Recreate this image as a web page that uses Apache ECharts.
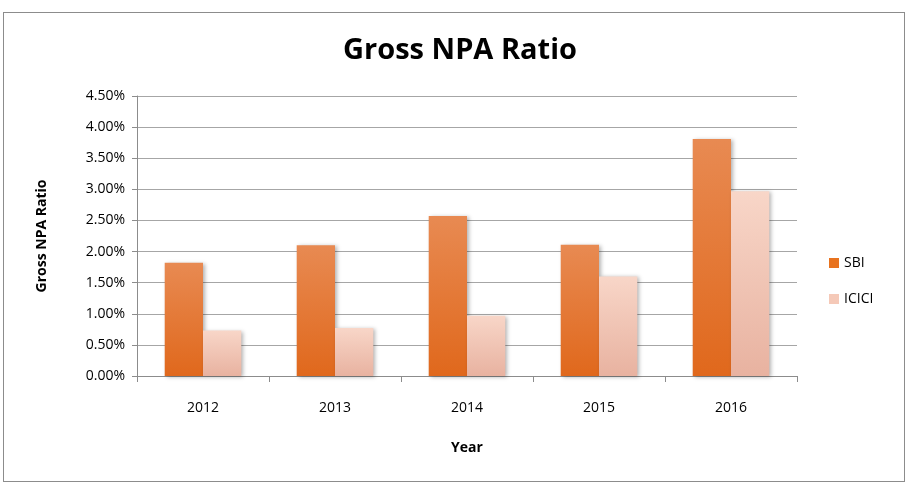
<!DOCTYPE html>
<html>
<head>
<meta charset="utf-8">
<script src="https://cdn.jsdelivr.net/npm/echarts@6/dist/echarts.min.js"></script>
<style>
  html, body { margin: 0; padding: 0; background: #fff; }
  #box { position: absolute; left: 3px; top: 12px; width: 900px; height: 468px; border: 1px solid #8c8c8c; }
  #chart { width: 900px; height: 468px; }
</style>
</head>
<body>
<div id="box"><div id="chart"></div></div>
<script>
// 年份
var years = ['2012', '2013', '2014', '2015', '2016'];
// 不良贷款率（%）
var sbi = [1.82, 2.10, 2.57, 2.11, 3.81];
var icici = [0.73, 0.77, 0.97, 1.60, 2.97];

var myChart = echarts.init(document.getElementById('chart'));
var font = 'Open Sans';

var option = {
  animation: false,
  textStyle: { fontFamily: font },
  title: {
    text: 'Gross NPA Ratio',
    left: 451, top: 18, textAlign: 'center',
    textStyle: { fontFamily: font, fontSize: 29, fontWeight: 'bold', color: '#000' }
  },
  legend: {
    orient: 'vertical',
    left: 820, top: 238,
    itemWidth: 10, itemHeight: 10, itemGap: 22,
    icon: 'rect',
    textStyle: { fontFamily: font, fontSize: 14, color: '#000' },
    data: [
      { name: 'SBI', itemStyle: { color: '#E8731F' } },
      { name: 'ICICI', itemStyle: { color: '#F5C9B8' } }
    ]
  },
  grid: { left: 133, top: 83, width: 660, height: 280 },
  xAxis: {
    type: 'category',
    data: years,
    name: 'Year', nameLocation: 'middle', nameGap: 65,
    nameTextStyle: { fontFamily: font, fontSize: 14, fontWeight: 'bold', color: '#000' },
    axisLine: { lineStyle: { color: '#8c8c8c' } },
    axisTick: { show: true, length: 6, lineStyle: { color: '#8c8c8c' } },
    axisLabel: { fontSize: 14, color: '#000', margin: 25 }
  },
  yAxis: {
    type: 'value',
    min: 0, max: 4.5, interval: 0.5,
    name: 'Gross NPA Ratio', nameLocation: 'middle', nameGap: 88, nameRotate: 90,
    nameTextStyle: { fontFamily: font, fontSize: 14, fontWeight: 'bold', color: '#000' },
    axisLine: { show: true, lineStyle: { color: '#8c8c8c' } },
    axisTick: { show: true, length: 5, lineStyle: { color: '#8c8c8c' } },
    axisLabel: {
      fontSize: 14, color: '#000', margin: 12,
      formatter: function (v) { return v.toFixed(2) + '%'; }
    },
    splitLine: { lineStyle: { color: '#a6a6a6' } }
  },
  series: [
    {
      name: 'SBI', type: 'bar', data: sbi,
      barGap: '0%', barCategoryGap: '42%',
      itemStyle: {
        color: new echarts.graphic.LinearGradient(0, 0, 0, 1, [
          { offset: 0, color: '#E88A52' },
          { offset: 1, color: '#E0681C' }
        ]),
        shadowColor: 'rgba(0,0,0,0.3)', shadowBlur: 4, shadowOffsetX: 2, shadowOffsetY: 1
      }
    },
    {
      name: 'ICICI', type: 'bar', data: icici,
      itemStyle: {
        color: new echarts.graphic.LinearGradient(0, 0, 0, 1, [
          { offset: 0, color: '#F8D6C8' },
          { offset: 1, color: '#E8B2A0' }
        ]),
        shadowColor: 'rgba(0,0,0,0.3)', shadowBlur: 4, shadowOffsetX: 2, shadowOffsetY: 1
      }
    }
  ]
};
myChart.setOption(option);
</script>
</body>
</html>
